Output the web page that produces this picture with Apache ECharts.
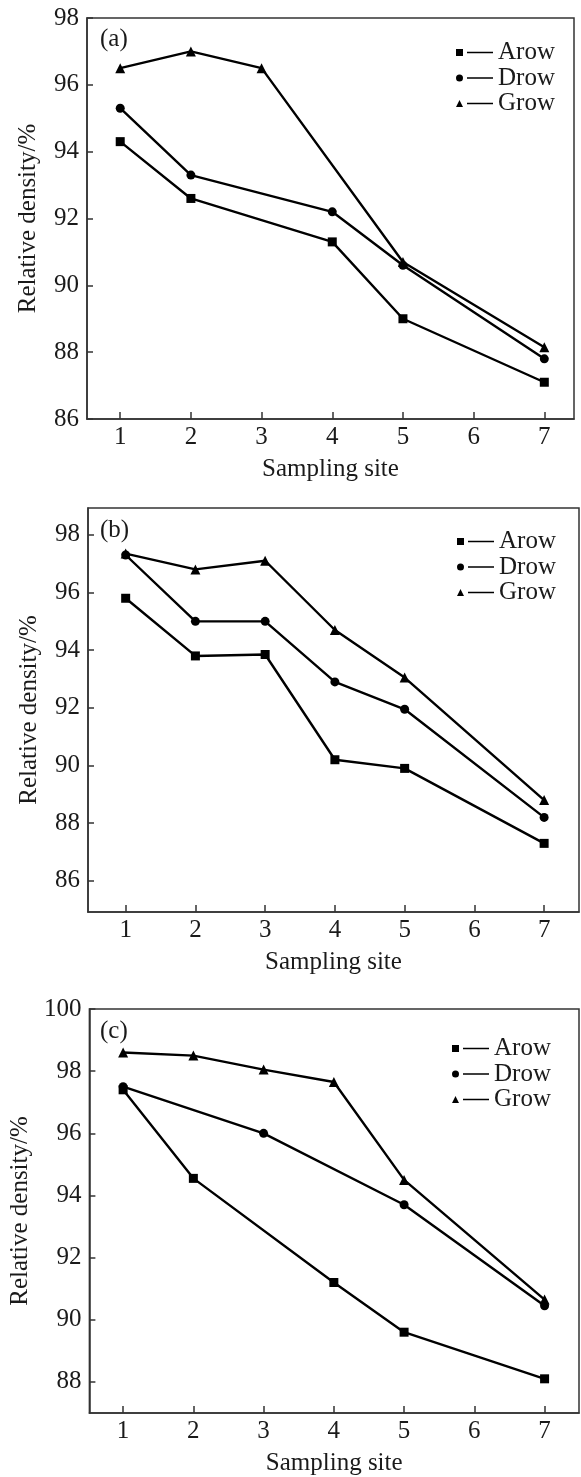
<!DOCTYPE html>
<html lang="en">
  <head>
    <meta charset="UTF-8" />
    <title>Relative density vs sampling site</title>
    <script src="https://cdn.jsdelivr.net/npm/echarts@6.0.0/dist/echarts.min.js"></script>
    <style>
      html, body { margin: 0; padding: 0; background: #fff; }
    </style>
  </head>
  <body>
    <div id="main" style="width: 581px; height: 1477px"></div>
  </body>
  <script type="text/javascript">
    // tick labels
    const xTicks = [1, 2, 3, 4, 5, 6, 7];
    const yTicksA = [86, 88, 90, 92, 94, 96, 98];
    const yTicksB = [86, 88, 90, 92, 94, 96, 98];
    const yTicksC = [88, 90, 92, 94, 96, 98, 100];
    const seriesNames = ["Arow", "Drow", "Grow"];

    // panel (a)
    const aArowSites = [1, 2, 4, 5, 7];
    const aArowValues = [94.3, 92.6, 91.3, 89.0, 87.1];
    const aDrowSites = [1, 2, 4, 5, 7];
    const aDrowValues = [95.3, 93.3, 92.2, 90.6, 87.8];
    const aGrowSites = [1, 2, 3, 5, 7];
    const aGrowValues = [96.5, 97.0, 96.5, 90.7, 88.15];

    // panel (b)
    const bArowSites = [1, 2, 3, 4, 5, 7];
    const bArowValues = [95.8, 93.8, 93.85, 90.2, 89.9, 87.3];
    const bDrowSites = [1, 2, 3, 4, 5, 7];
    const bDrowValues = [97.3, 95.0, 95.0, 92.9, 91.95, 88.2];
    const bGrowSites = [1, 2, 3, 4, 5, 7];
    const bGrowValues = [97.35, 96.8, 97.1, 94.7, 93.05, 88.8];

    // panel (c)
    const cArowSites = [1, 2, 4, 5, 7];
    const cArowValues = [97.4, 94.55, 91.2, 89.6, 88.1];
    const cDrowSites = [1, 3, 5, 7];
    const cDrowValues = [97.5, 96.0, 93.7, 90.45];
    const cGrowSites = [1, 2, 3, 4, 5, 7];
    const cGrowValues = [98.6, 98.5, 98.05, 97.65, 94.5, 90.65];

    const FONT = "Liberation Serif";
    const TXT = "#1a1a1a";
    const AX = "#333";

    function pairs(sites, vals) {
      return sites.map((s, i) => [s, vals[i]]);
    }

    // legend icons: marker + short line
    const lineBit = "M11,2.8h26v1.5h-26Z";
    const icons = {
      Arow: "path://M0,0h7v7h-7Z" + lineBit,
      Drow: "path://M3.5,0A3.5,3.5 0 1,1 3.5,7A3.5,3.5 0 1,1 3.5,0Z" + lineBit,
      Grow: "path://M3.5,0L7,7L0,7Z" + lineBit,
    };
    const symbols = { Arow: "rect", Drow: "circle", Grow: "triangle" };
    const symbolSizes = { Arow: 9, Drow: 9, Grow: 10 };

    const panels = [
      { tag: "(a)", grid: { left: 87, top: 18, width: 487, height: 401 }, xMin: 0.53, xMax: 7.42,
        yMin: 86, yMax: 98, yTicks: yTicksA, tagTop: 27, legTop: 40, legLeft: 456,
        data: [pairs(aArowSites, aArowValues), pairs(aDrowSites, aDrowValues), pairs(aGrowSites, aGrowValues)] },
      { tag: "(b)", grid: { left: 88, top: 508, width: 491, height: 404 }, xMin: 0.46, xMax: 7.5,
        yMin: 84.92, yMax: 98.93, yTicks: yTicksB, tagTop: 518, legTop: 529, legLeft: 457,
        data: [pairs(bArowSites, bArowValues), pairs(bDrowSites, bDrowValues), pairs(bGrowSites, bGrowValues)] },
      { tag: "(c)", grid: { left: 87, top: 1009, width: 492, height: 404 }, xMin: 0.52, xMax: 7.49,
        yMin: 87, yMax: 100, yTicks: yTicksC, tagTop: 1019, legTop: 1036, legLeft: 452,
        data: [pairs(cArowSites, cArowValues), pairs(cDrowSites, cDrowValues), pairs(cGrowSites, cGrowValues)] },
    ];

    const option = {
      backgroundColor: "#fff",
      animation: false,
      textStyle: { fontFamily: FONT, color: TXT },
      title: [],
      legend: [],
      grid: [],
      xAxis: [],
      yAxis: [],
      series: [],
    };

    panels.forEach((p, k) => {
      option.grid.push(Object.assign({ show: true, borderColor: AX, borderWidth: 1.5, backgroundColor: "transparent" }, p.grid));
      option.title.push({
        text: p.tag, left: 100, top: p.tagTop, padding: 0,
        textStyle: { fontFamily: FONT, fontSize: 25, fontWeight: "normal", color: TXT },
      });
      option.legend.push({
        orient: "vertical", left: p.legLeft, top: p.legTop, padding: 0,
        itemWidth: 37, itemHeight: 7, itemGap: 0.5, selectedMode: false,
        textStyle: { fontFamily: FONT, fontSize: 25, lineHeight: 25, color: TXT },
        itemStyle: { color: "#000", borderWidth: 0 },
        data: seriesNames.map((n) => ({ name: n, icon: icons[n] })),
      });
      option.xAxis.push({
        type: "value", gridIndex: k, min: p.xMin, max: p.xMax,
        name: "Sampling site", nameLocation: "middle", nameGap: 38,
        nameTextStyle: { fontFamily: FONT, fontSize: 25, color: TXT },
        axisLine: { show: true, lineStyle: { color: AX, width: 1.5 } },
        axisTick: { show: true, inside: true, length: 7, customValues: xTicks, lineStyle: { color: AX, width: 1.5 } },
        axisLabel: { customValues: xTicks, margin: 6, fontFamily: FONT, fontSize: 25, color: TXT },
        splitLine: { show: false },
      });
      option.yAxis.push({
        type: "value", gridIndex: k, min: p.yMin, max: p.yMax,
        name: "Relative density/%", nameLocation: "middle", nameGap: 46,
        nameTextStyle: { fontFamily: FONT, fontSize: 25, color: TXT },
        axisLine: { show: true, lineStyle: { color: AX, width: 1.5 } },
        axisTick: { show: true, inside: true, length: 6, customValues: p.yTicks, lineStyle: { color: AX, width: 1.5 } },
        axisLabel: { customValues: p.yTicks, margin: 8, fontFamily: FONT, fontSize: 25, color: TXT },
        splitLine: { show: false },
      });
      seriesNames.forEach((n, j) => {
        option.series.push({
          name: n, type: "line", xAxisIndex: k, yAxisIndex: k,
          data: p.data[j],
          symbol: symbols[n], symbolSize: symbolSizes[n], showAllSymbol: true,
          itemStyle: { color: "#000" },
          lineStyle: { color: "#000", width: 2.4 },
          z: 3,
        });
      });
    });

    const chart = echarts.init(document.getElementById("main"), null, { renderer: "canvas" });
    chart.setOption(option);
  </script>
</html>
